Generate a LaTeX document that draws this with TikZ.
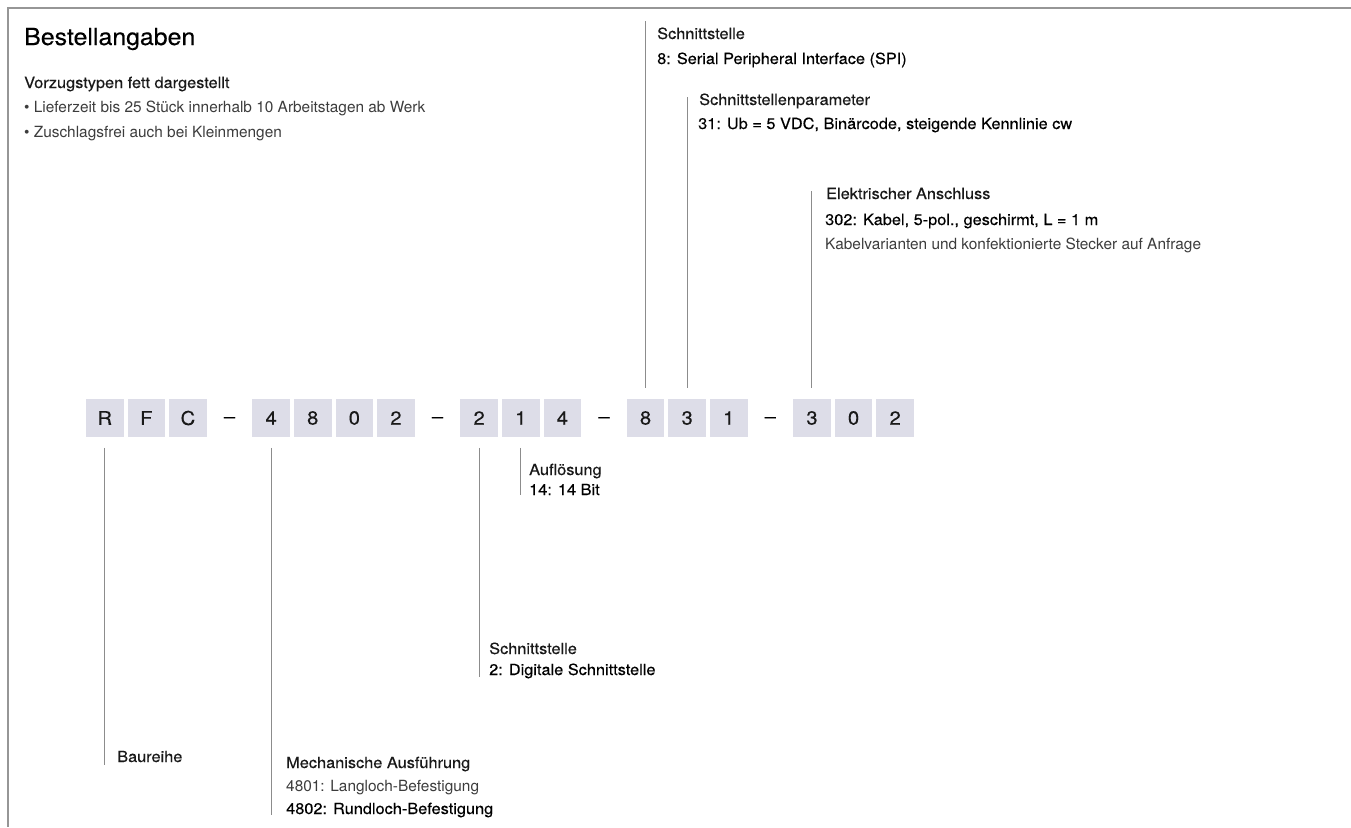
\documentclass[tikz,border=0pt]{standalone}
\usepackage{fontspec}
\setmainfont{TeX Gyre Heros}
\newfontfamily\mediumfont[FakeStretch=1.06,FakeBold=0.35,Ligatures=TeX]{TeX Gyre Heros}

\definecolor{boxfill}{RGB}{221,221,232}
\definecolor{leadgray}{RGB}{140,140,140}
\definecolor{framegray}{RGB}{150,150,150}
\definecolor{lighttext}{RGB}{60,60,60}

\tikzset{
  digit/.style={fill=boxfill, minimum size=37.5pt, inner sep=0pt, font=\mediumfont\fontsize{19}{21}\selectfont, text=black!90},
  sep/.style={inner sep=0pt, font=\mediumfont\fontsize{19}{21}\selectfont},
  lead/.style={draw=leadgray, line width=1pt},
  head/.style={anchor=base west, inner sep=0pt, font=\mediumfont\fontsize{15.4}{18}\selectfont, text=black!90},
  fett/.style={anchor=base west, inner sep=0pt, font=\mediumfont\fontsize{15.4}{18}\selectfont, text=black},
  info/.style={anchor=base west, inner sep=0pt, font=\fontsize{15.4}{18}\selectfont, text=lighttext},
}

\begin{document}
\begin{tikzpicture}[x=1pt,y=-1pt]
\useasboundingbox (0,0) rectangle (1351,827);
\draw[framegray, line width=1.5pt] (1351,8) -- (8,8) -- (8,827);

\node[anchor=base west, inner sep=0pt, font=\mediumfont\fontsize{23.5}{26}\selectfont] (title) at (24,45) {Bestellangaben};
\node[head] (pref) at (24,88) {Vorzugstypen fett dargestellt};
\node[info] (pref1) at (24,112) {• Lieferzeit bis 25 Stück innerhalb 10 Arbeitstagen ab Werk};
\node[info] (pref2) at (24,137) {• Zuschlagsfrei auch bei Kleinmengen};

% Typenschluessel
\foreach \i/\c in {0/R,1/F,2/C,4/4,5/8,6/0,7/2,9/2,10/1,11/4,13/8,14/3,15/1,17/3,18/0,19/2}
    \node[digit] (b\i) at ({104.75+41.6*\i},418) {\c};
\foreach \i in {3,8,12,16}
    \node[sep] (d\i) at ({104.75+41.6*\i},420) {\textendash};

% Linien nach unten
\foreach \i/\y in {0/765,4/815,9/677,10/495} {
    \coordinate (e\i) at (b\i |- 0,\y);
    \draw[lead] ([yshift=-11pt]b\i.south) -- (e\i);
}
% Linien nach oben
\foreach \i/\y in {13/21,14/97,17/191} {
    \coordinate (e\i) at (b\i |- 0,\y);
    \draw[lead] (e\i) -- ([yshift=11pt]b\i.north);
}

\node[head] (ifc) at (657,39) {Schnittstelle};
\node[fett] (ifc8) at (657,64) {8: Serial Peripheral Interface (SPI)};
\node[head] (par) at (699,105) {Schnittstellenparameter};
\node[fett] (par31) at (698,129) {31: Ub = 5 VDC, Binärcode, steigende Kennlinie cw};
\node[head] (el) at (826,199) {Elektrischer Anschluss};
\node[fett] (el302) at (825,225) {302: Kabel, 5-pol., geschirmt, L = 1 m};
\node[info] (elvar) at (825,249) {Kabelvarianten und konfektionierte Stecker auf Anfrage};

\node[head] (res) at (529,475) {Auflösung};
\node[fett] (res14) at (529,495) {14: 14 Bit};
\node[head] (dig) at (489,654) {Schnittstelle};
\node[fett] (dig2) at (489,675) {2: Digitale Schnittstelle};
\node[head] (ser) at (117,762) {Baureihe};
\node[head] (mech) at (286,768) {Mechanische Ausführung};
\node[info] (mech1) at (286,791) {4801: Langloch-Befestigung};
\node[fett] (mech2) at (286,814) {4802: Rundloch-Befestigung};
\end{tikzpicture}
\end{document}
